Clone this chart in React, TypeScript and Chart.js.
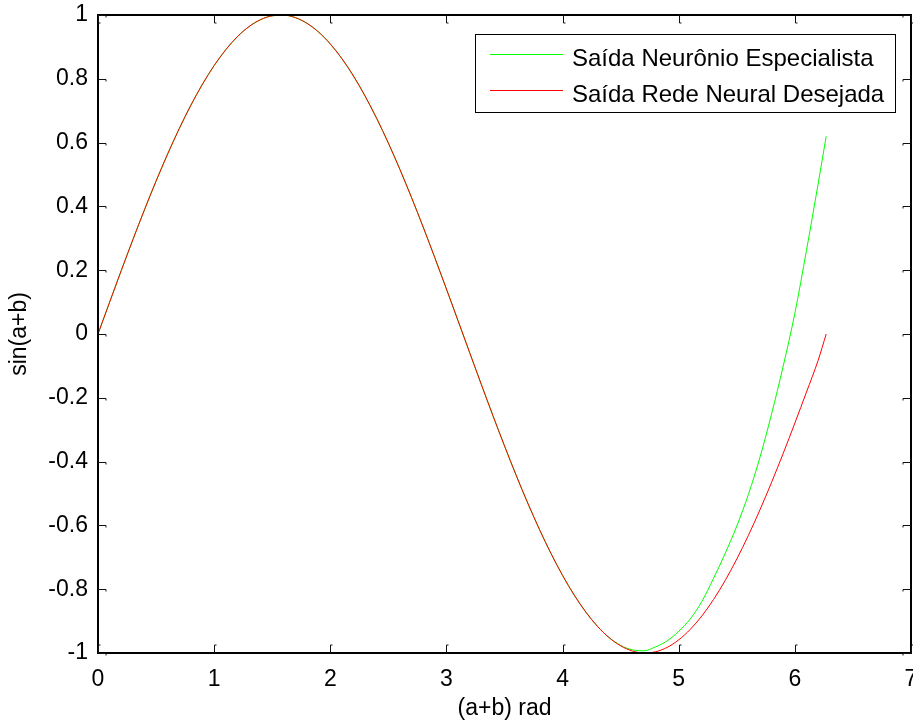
import React, { useEffect, useRef } from "react";
import { Chart, registerables } from "chart.js";

Chart.register(...registerables);

// ---- data ----
const xValues = [
  0, 0.1, 0.2, 0.3, 0.4, 0.5, 0.6, 0.7, 0.8, 0.9,
  1.0, 1.1, 1.2, 1.3, 1.4, 1.5, 1.6, 1.7, 1.8, 1.9,
  2.0, 2.1, 2.2, 2.3, 2.4, 2.5, 2.6, 2.7, 2.8, 2.9,
  3.0, 3.1, 3.2, 3.3, 3.4, 3.5, 3.6, 3.7, 3.8, 3.9,
  4.0, 4.1, 4.2, 4.3, 4.4, 4.5, 4.6, 4.7, 4.8, 4.9,
  5.0, 5.1, 5.2, 5.3, 5.4, 5.5, 5.6, 5.7, 5.8, 5.9,
  6.0, 6.1, 6.2, 6.27,
];

// red: desired network output
const desiredOutput = [
  0, 0.0998, 0.1987, 0.2955, 0.3894, 0.4794, 0.5646, 0.6442, 0.7174, 0.7833,
  0.8415, 0.8912, 0.932, 0.9636, 0.9854, 0.9975, 0.9996, 0.9917, 0.9738, 0.9463,
  0.9093, 0.8632, 0.8085, 0.7457, 0.6755, 0.5985, 0.5155, 0.4274, 0.335, 0.2392,
  0.1411, 0.0416, -0.0584, -0.1577, -0.2555, -0.3508, -0.4425, -0.5298, -0.6119, -0.6878,
  -0.7568, -0.8183, -0.8716, -0.9162, -0.9516, -0.9775, -0.9937, -0.9999, -0.9962, -0.9825,
  -0.9589, -0.9258, -0.8835, -0.8323, -0.7728, -0.7055, -0.6313, -0.5507, -0.4646, -0.3739,
  -0.2794, -0.1822, -0.0831, 0.0,
];

// green: specialist neuron output
const specialistOutput = [
  0, 0.0998, 0.1987, 0.2955, 0.3894, 0.4794, 0.5646, 0.6442, 0.7174, 0.7833,
  0.8415, 0.8912, 0.932, 0.9636, 0.9854, 0.9975, 0.9996, 0.9917, 0.9738, 0.9463,
  0.9093, 0.8632, 0.8085, 0.7457, 0.6755, 0.5985, 0.5155, 0.4274, 0.335, 0.2392,
  0.1411, 0.0416, -0.0584, -0.1577, -0.2555, -0.3508, -0.4425, -0.5298, -0.6119, -0.6878,
  -0.7568, -0.8183, -0.8716, -0.9162, -0.9516, -0.976, -0.99, -0.993, -0.981, -0.962,
  -0.932, -0.893, -0.838, -0.766, -0.688, -0.602, -0.503, -0.386, -0.25, -0.1,
  0.065, 0.262, 0.47, 0.62,
];

const seriesLabels = ["Saída Neurônio Especialista", "Saída Rede Neural Desejada"];
const xTicks = [0, 1, 2, 3, 4, 5, 6, 7];
const yTicks = [-1, -0.8, -0.6, -0.4, -0.2, 0, 0.2, 0.4, 0.6, 0.8, 1];
const xTitle = "(a+b) rad";
const yTitle = "sin(a+b)";

const FONT = '"Liberation Sans", Arial, sans-serif';

const framePlugin = {
  id: "matlabFrame",
  afterDraw(chart: any) {
    const ctx = chart.ctx as CanvasRenderingContext2D;
    const { left, right, top, bottom } = chart.chartArea;
    const xs = chart.scales.x;
    const ys = chart.scales.y;
    ctx.save();
    // box
    ctx.strokeStyle = "#000";
    ctx.lineWidth = 2;
    ctx.strokeRect(left, top, right - left, bottom - top);
    // inward ticks
    ctx.lineWidth = 1;
    ctx.strokeStyle = "#111";
    const tl = 8;
    ctx.beginPath();
    xTicks.forEach((v) => {
      const px = Math.round(xs.getPixelForValue(v)) + 0.5;
      ctx.moveTo(px, bottom);
      ctx.lineTo(px, bottom - tl);
      ctx.lineTo(px + 2, bottom - tl);
      ctx.moveTo(px, top);
      ctx.lineTo(px, top + tl);
      ctx.lineTo(px + 2, top + tl);
    });
    yTicks.forEach((v) => {
      const py = Math.round(ys.getPixelForValue(v)) + 0.5;
      ctx.moveTo(left, py);
      ctx.lineTo(left + tl, py);
      ctx.lineTo(left + tl, py + 2);
      ctx.moveTo(right, py);
      ctx.lineTo(right - tl, py);
      ctx.lineTo(right - tl, py + 2);
    });
    ctx.stroke();

    // axis titles
    ctx.fillStyle = "#000";
    ctx.font = `23px ${FONT}`;
    ctx.textAlign = "center";
    ctx.textBaseline = "alphabetic";
    ctx.fillText(xTitle, (left + right) / 2, 715);
    ctx.save();
    ctx.translate(26, (top + bottom) / 2);
    ctx.rotate(-Math.PI / 2);
    ctx.fillText(yTitle, 0, 0);
    ctx.restore();

    // legend
    const lx = 475, ly = 34, lw = 420, lh = 78;
    ctx.fillStyle = "#fff";
    ctx.fillRect(lx, ly, lw, lh);
    ctx.strokeStyle = "#000";
    ctx.lineWidth = 1;
    ctx.strokeRect(lx + 0.5, ly + 0.5, lw, lh);
    ctx.font = `24px ${FONT}`;
    ctx.textAlign = "left";
    chart.data.datasets.forEach((ds: any, i: number) => {
      const lineY = 54.5 + i * 36;
      ctx.strokeStyle = ds.borderColor;
      ctx.beginPath();
      ctx.moveTo(490, lineY);
      ctx.lineTo(563, lineY);
      ctx.stroke();
      ctx.fillStyle = "#000";
      ctx.fillText(ds.label, 572, 66 + i * 35.5);
    });
    ctx.restore();
  },
};

export default function App() {
  const ref = useRef<HTMLCanvasElement>(null);

  useEffect(() => {
    const toPts = (arr: number[]) => xValues.map((x, i) => ({ x, y: arr[i] }));
    const chart = new Chart(ref.current as HTMLCanvasElement, {
      type: "line",
      data: {
        datasets: [
          {
            label: seriesLabels[0],
            data: toPts(specialistOutput),
            borderColor: "#00ff00",
            borderWidth: 1,
            pointRadius: 0,
            cubicInterpolationMode: "monotone",
            order: 1,
          },
          {
            label: seriesLabels[1],
            data: toPts(desiredOutput),
            borderColor: "#ff0000",
            borderWidth: 1,
            pointRadius: 0,
            cubicInterpolationMode: "monotone",
            order: 0,
          },
        ],
      },
      options: {
        animation: false,
        responsive: false,
        devicePixelRatio: 1,
        layout: { padding: { top: 15, right: 2, left: 0, bottom: 0 } },
        plugins: { legend: { display: false }, tooltip: { enabled: false } },
        scales: {
          x: {
            type: "linear",
            min: 0,
            max: 7,
            afterBuildTicks: (s: any) => {
              s.ticks = xTicks.map((v) => ({ value: v }));
            },
            afterFit: (s: any) => {
              s.height = 71;
              s.paddingLeft = 0;
              s.paddingRight = 0;
            },
            grid: { display: false, drawTicks: false },
            border: { display: false },
            ticks: {
              autoSkip: false,
              maxRotation: 0,
              padding: 13,
              color: "#000",
              font: { family: FONT, size: 23 },
              callback: (v: any) => String(v),
            },
          },
          y: {
            type: "linear",
            min: -1,
            max: 1,
            afterBuildTicks: (s: any) => {
              s.ticks = yTicks.map((v) => ({ value: v }));
            },
            afterFit: (s: any) => {
              s.width = 98;
              s.paddingTop = 0;
              s.paddingBottom = 0;
            },
            grid: { display: false, drawTicks: false },
            border: { display: false },
            ticks: {
              autoSkip: false,
              padding: 10,
              color: "#000",
              font: { family: FONT, size: 23 },
              callback: (v: any) => String(parseFloat(Number(v).toFixed(1))),
            },
          },
        },
      } as any,
      plugins: [framePlugin],
    });
    return () => chart.destroy();
  }, []);

  return (
    <div style={{ position: "fixed", left: 0, top: 0, width: 913, height: 724, background: "#fff" }}>
      <canvas ref={ref} width={913} height={724} style={{ display: "block", width: 913, height: 724 }} />
    </div>
  );
}
